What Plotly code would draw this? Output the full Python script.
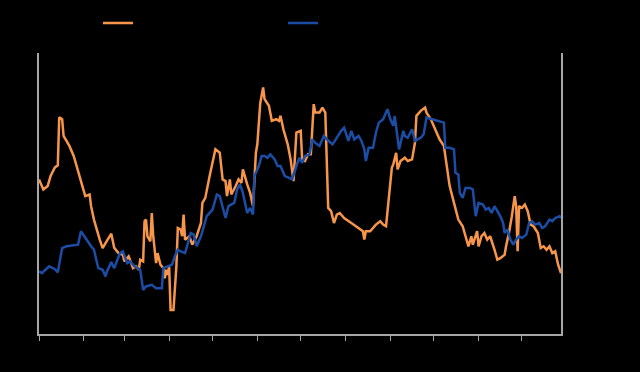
import pandas as pd
import plotly.graph_objects as go

start = pd.Timestamp("2019-01-01")

# Series 1 (orange): day offsets from Jan 1 and values
orange_days = [0, 3, 6, 8, 11, 13, 14, 16, 17, 21, 24, 28, 30, 32, 35, 36, 38, 42, 44, 46,
               50, 52, 55, 58, 59, 62, 65, 67, 69, 70, 72, 73, 74, 75, 77, 78, 79, 81, 82, 84,
               86, 87, 88, 89, 90, 91, 93, 95, 96, 98, 99, 100, 101, 104, 106, 109, 112, 113, 115, 118,
               122, 125, 127, 129, 130, 132, 133, 136, 138, 140, 141, 144, 146, 148, 150, 151, 153, 155, 156, 159,
               161, 164, 166, 167, 169, 172, 174, 176, 178, 181, 182, 184, 186, 188, 190, 191, 194, 196, 198, 200,
               202, 204, 206, 208, 211, 216, 221, 224, 225, 226, 229, 231, 233, 236, 238, 240, 242, 244, 245, 247,
               248, 250, 253, 255, 258, 260, 261, 264, 267, 268, 271, 274, 277, 280, 282, 284, 287, 290, 293, 295,
               297, 299, 300, 303, 304, 306, 308, 310, 312, 315, 317, 319, 322, 323, 325, 327, 329, 330, 331, 332,
               334, 336, 338, 340, 342, 345, 347, 349, 351, 353, 355, 357, 359, 361]
orange_vals = [7.7, 7.2, 7.37, 7.87, 8.3, 8.4, 10.8, 10.7, 9.87, 9.37, 8.87, 7.95, 7.37, 6.87, 6.95, 6.37, 5.7, 4.7, 4.28, 4.53,
               5.0, 4.3, 4.03, 3.95, 3.62, 3.87, 3.28, 3.37, 3.2, 3.7, 3.62, 5.62, 5.7, 4.87, 4.62, 6.03, 4.87, 3.53, 4.03, 3.45,
               3.28, 2.78, 3.2, 2.95, 3.37, 1.2, 1.2, 3.37, 5.28, 5.2, 4.87, 5.95, 4.7, 4.87, 4.45, 4.87, 5.53, 6.53, 6.78, 7.87,
               9.2, 9.03, 7.7, 7.62, 6.87, 7.7, 6.95, 7.37, 7.7, 7.53, 8.2, 7.45, 7.03, 6.37, 9.03, 9.45, 11.5, 12.28, 11.7, 11.37,
               10.62, 10.7, 10.62, 10.87, 10.2, 9.45, 8.7, 7.62, 10.03, 10.12, 8.7, 8.62, 8.95, 8.95, 11.45, 11.03, 11.03, 11.28, 11.03, 6.28,
               6.12, 5.53, 5.95, 6.03, 5.78, 5.53, 5.28, 5.12, 4.7, 5.12, 5.12, 5.28, 5.45, 5.62, 5.45, 5.37, 7.03, 8.28, 8.45, 9.03,
               8.2, 8.62, 8.78, 8.62, 8.7, 9.53, 10.87, 11.12, 11.28, 11.03, 10.7, 10.2, 9.7, 9.37, 8.37, 7.37, 6.53, 5.7, 5.37, 4.87,
               4.37, 4.87, 4.45, 5.12, 4.37, 4.87, 5.03, 4.7, 4.87, 4.2, 3.7, 3.78, 3.95, 4.37, 5.03, 5.87, 6.87, 6.37, 4.12, 6.37,
               6.28, 6.45, 6.12, 5.45, 5.37, 5.03, 4.28, 4.37, 4.2, 4.37, 4.03, 4.12, 3.45, 3.03]

# Series 2 (blue)
blue_days = [0, 2, 7, 11, 13, 16, 19, 27, 29, 32, 36, 38, 41, 44, 46, 47, 50, 52, 54, 56,
             58, 61, 63, 66, 70, 72, 74, 78, 81, 85, 86, 89, 92, 94, 96, 98, 101, 102, 105, 107,
             109, 112, 114, 116, 120, 123, 125, 127, 129, 131, 135, 137, 139, 141, 144, 146, 148, 149, 152, 154,
             156, 158, 160, 163, 165, 167, 170, 173, 175, 178, 180, 182, 184, 187, 189, 191, 194, 197, 199, 203,
             206, 209, 211, 214, 216, 218, 221, 223, 225, 226, 228, 231, 233, 235, 238, 241, 243, 245, 246, 248,
             249, 252, 253, 255, 258, 260, 264, 266, 268, 272, 276, 280, 281, 284, 287, 288, 290, 291, 293, 295,
             298, 300, 302, 304, 307, 309, 311, 313, 315, 317, 319, 321, 322, 324, 326, 328, 330, 332, 334, 337,
             339, 341, 343, 346, 348, 350, 353, 355, 357, 360, 361]
blue_vals = [3.12, 3.03, 3.37, 3.23, 3.07, 4.28, 4.37, 4.45, 5.12, 4.78, 4.37, 4.2, 3.28, 3.2, 2.87, 3.12, 3.58, 3.28, 3.7, 4.03,
             4.12, 3.53, 3.62, 3.37, 3.2, 2.2, 2.37, 2.45, 2.28, 2.28, 3.28, 3.37, 3.45, 3.87, 4.2, 4.12, 4.03, 4.28, 5.03, 4.95,
             4.37, 4.87, 5.37, 5.87, 6.2, 6.95, 6.87, 6.28, 5.78, 6.37, 6.53, 7.2, 7.45, 7.03, 6.03, 6.28, 5.95, 7.87, 8.37, 8.87,
             8.87, 8.78, 8.95, 8.7, 8.37, 8.37, 7.87, 7.78, 7.7, 8.37, 8.78, 8.53, 8.87, 8.95, 9.7, 9.53, 9.37, 9.87, 9.7, 9.45,
             9.8, 10.12, 10.28, 9.62, 10.12, 9.7, 9.87, 9.62, 9.2, 8.62, 9.28, 9.28, 10.03, 10.53, 10.7, 11.2, 10.7, 10.37, 10.87, 9.78,
             9.2, 10.12, 9.87, 9.78, 10.2, 9.62, 9.78, 9.95, 10.78, 10.7, 10.62, 10.53, 9.28, 9.28, 9.2, 8.03, 7.95, 7.03, 6.78, 7.28,
             7.28, 7.2, 5.87, 6.53, 6.45, 6.2, 6.28, 6.03, 6.37, 6.12, 5.87, 5.53, 5.03, 5.2, 4.7, 4.45, 4.7, 4.87, 4.78, 4.95,
             5.53, 5.62, 5.45, 5.53, 5.28, 5.37, 5.7, 5.62, 5.78, 5.87, 5.78]

series_names = ["Series 1", "Series 2"]
y_range = [0, 14]

orange_dates = [start + pd.Timedelta(days=d) for d in orange_days]
blue_dates = [start + pd.Timedelta(days=d) for d in blue_days]

fig = go.Figure()
fig.add_trace(go.Scatter(x=orange_dates, y=orange_vals, mode="lines", name=series_names[0],
                         line=dict(color="#F7964A", width=2.5)))
fig.add_trace(go.Scatter(x=blue_dates, y=blue_vals, mode="lines", name=series_names[1],
                         line=dict(color="#1C4DA6", width=2.5), yaxis="y2"))

axis_col = "#A6A6A6"
fig.update_layout(
    width=640, height=372,
    paper_bgcolor="black", plot_bgcolor="black",
    margin=dict(l=39, r=79, t=53, b=38),
    font=dict(family="Liberation Sans", size=11, color="black"),
    showlegend=True,
    legend=dict(orientation="h", xref="paper", x=0.113, yref="container", y=0.938,
                yanchor="middle", xanchor="left", entrywidth=140, entrywidthmode="pixels",
                font=dict(color="black", size=11), bgcolor="rgba(0,0,0,0)"),
    xaxis=dict(type="date", range=[min(orange_dates[0], blue_dates[0]), max(orange_dates[-1], blue_dates[-1])],
               showgrid=False, zeroline=False, showline=True, linecolor=axis_col, linewidth=1.5,
               ticks="outside", ticklen=5, tickcolor=axis_col, tickwidth=1,
               tick0="2019-01-01", dtick="M1", showticklabels=False),
    yaxis=dict(range=y_range, showgrid=False, zeroline=False, showline=True, linecolor=axis_col,
               linewidth=1.5, ticks="", showticklabels=False),
    yaxis2=dict(range=y_range, overlaying="y", side="right", showgrid=False, zeroline=False,
                showline=True, linecolor=axis_col, linewidth=1.5, ticks="", showticklabels=False),
)

fig.write_html("out.html")
